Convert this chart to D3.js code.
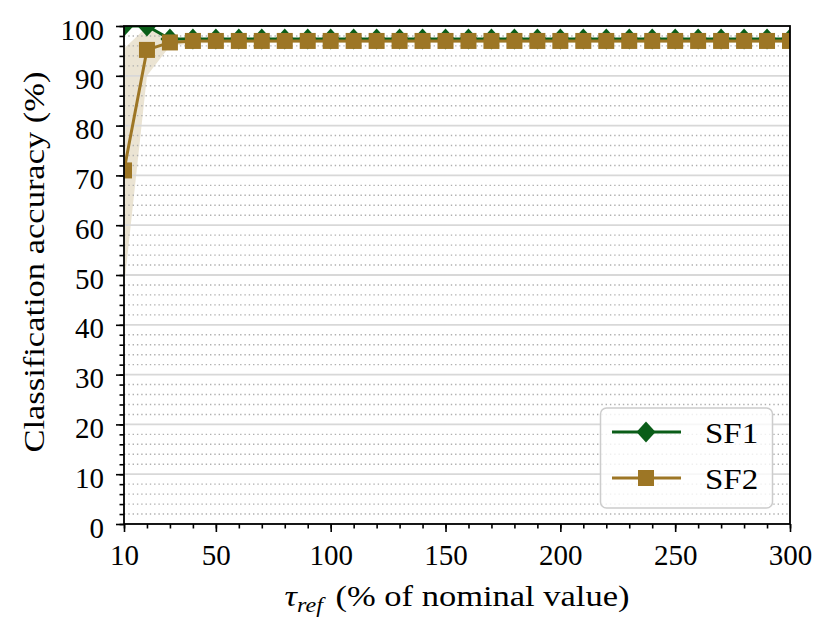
<!DOCTYPE html>
<html>
<head>
<meta charset="utf-8">
<script src="https://cdn.jsdelivr.net/npm/d3@7"></script>
<style>
  body { margin: 0; background: #fff; }
  text { font-family: "Liberation Serif", "DejaVu Serif", serif; fill: #000; }
</style>
</head>
<body>
<svg id="board" width="830" height="630"></svg>
<script>
// data
var tauRef = [10, 20, 30, 40, 50, 60, 70, 80, 90, 100, 110, 120, 130, 140, 150,
              160, 170, 180, 190, 200, 210, 220, 230, 240, 250, 260, 270, 280, 290, 300];
var sf1 = [100, 100, 97.4, 97.4, 97.4, 97.4, 97.4, 97.4, 97.4, 97.4, 97.4, 97.4, 97.4, 97.4, 97.4,
           97.4, 97.4, 97.4, 97.4, 97.4, 97.4, 97.4, 97.4, 97.4, 97.4, 97.4, 97.4, 97.4, 97.4, 97.4];
var sf2 = [71, 95.2, 96.7, 97.0, 97.0, 97.0, 97.0, 97.0, 97.0, 97.0, 97.0, 97.0, 97.0, 97.0, 97.0,
           97.0, 97.0, 97.0, 97.0, 97.0, 97.0, 97.0, 97.0, 97.0, 97.0, 97.0, 97.0, 97.0, 97.0, 97.0];
var sf2Lo = [47.5, 90, 96.0, 96.5, 96.6, 96.6, 96.6, 96.6, 96.6, 96.6, 96.6, 96.6, 96.6, 96.6, 96.6,
             96.6, 96.6, 96.6, 96.6, 96.6, 96.6, 96.6, 96.6, 96.6, 96.6, 96.6, 96.6, 96.6, 96.6, 96.6];
var sf2Hi = [95.5, 99.8, 97.6, 97.4, 97.4, 97.4, 97.4, 97.4, 97.4, 97.4, 97.4, 97.4, 97.4, 97.4, 97.4,
             97.4, 97.4, 97.4, 97.4, 97.4, 97.4, 97.4, 97.4, 97.4, 97.4, 97.4, 97.4, 97.4, 97.4, 97.4];
var xTicks = [10, 50, 100, 150, 200, 250, 300];
var yTicks = [0, 10, 20, 30, 40, 50, 60, 70, 80, 90, 100];
var seriesNames = ["SF1", "SF2"];
var seriesColors = ["#0a5d18", "#9d7625"];

var L = 124, R = 790, T = 26, B = 524;
var board = d3.select("#board");
var x = d3.scaleLinear().domain([10, 300]).range([L, R]);
var y = d3.scaleLinear().domain([0, 100]).range([B, T]);

board.append("defs").append("clipPath").attr("id", "clip")
  .append("rect").attr("x", L).attr("y", T).attr("width", R - L).attr("height", B - T);

var plot = board.append("g").attr("clip-path", "url(#clip)");

// shaded spread of SF2
plot.append("path")
  .datum(tauRef.map(function(t, i) { return [t, sf2Lo[i], sf2Hi[i]]; }))
  .attr("fill", seriesColors[1]).attr("fill-opacity", 0.2)
  .attr("d", d3.area().x(function(d) { return x(d[0]); })
    .y0(function(d) { return y(d[1]); }).y1(function(d) { return y(d[2]); }));

// grid
var minorY = d3.range(0, 101, 2).filter(function(v) { return v % 10 !== 0; });
plot.selectAll("line.minor").data(minorY).enter().append("line")
  .attr("class", "minor")
  .attr("x1", L).attr("x2", R)
  .attr("y1", function(d) { return y(d); }).attr("y2", function(d) { return y(d); })
  .attr("stroke", "#b0b0b0").attr("stroke-width", 1.4).attr("stroke-dasharray", "1.4,2.9");
plot.selectAll("line.major").data(yTicks).enter().append("line")
  .attr("class", "major")
  .attr("x1", L).attr("x2", R)
  .attr("y1", function(d) { return y(d); }).attr("y2", function(d) { return y(d); })
  .attr("stroke", "#d8d8d8").attr("stroke-width", 1.8);

var line = d3.line().x(function(d) { return x(d[0]); }).y(function(d) { return y(d[1]); });
var diamond = "M0,-10.5L9.5,0L0,10.5L-9.5,0Z";

function drawSeries(vals, color, kind) {
  var pts = tauRef.map(function(t, i) { return [t, vals[i]]; });
  plot.append("path").datum(pts).attr("d", line)
    .attr("fill", "none").attr("stroke", color).attr("stroke-width", 3);
  var m = plot.selectAll(null).data(pts).enter();
  if (kind === "d") {
    m.append("path").attr("d", diamond)
      .attr("transform", function(d) { return "translate(" + x(d[0]) + "," + y(d[1]) + ")"; })
      .attr("fill", color);
  } else {
    m.append("rect").attr("width", 16).attr("height", 16)
      .attr("x", function(d) { return x(d[0]) - 8; })
      .attr("y", function(d) { return y(d[1]) - 8; })
      .attr("fill", color);
  }
}
drawSeries(sf1, seriesColors[0], "d");
drawSeries(sf2, seriesColors[1], "s");

// axes
var fs = 29;
var ax = board.append("g").attr("transform", "translate(0," + B + ")")
  .call(d3.axisBottom(x).tickValues(xTicks).tickSize(8).tickPadding(12));
board.append("g").attr("transform", "translate(0," + B + ")")
  .call(d3.axisBottom(x).tickValues(d3.range(10, 301, 10)).tickSize(4.5).tickFormat(""))
  .select(".domain").remove();
var ay = board.append("g").attr("transform", "translate(" + L + ",0)")
  .call(d3.axisLeft(y).tickValues(yTicks).tickSize(8).tickPadding(12));
board.append("g").attr("transform", "translate(" + L + ",0)")
  .call(d3.axisLeft(y).tickValues(d3.range(0, 101, 2)).tickSize(4.5).tickFormat(""))
  .select(".domain").remove();
board.selectAll(".tick line").attr("stroke", "#000").attr("stroke-width", 1.6);
board.selectAll(".domain").remove();
ax.selectAll("text").style("font-size", fs + "px").style("font-family", "Liberation Serif");
ay.selectAll("text").style("font-size", fs + "px").style("font-family", "Liberation Serif").attr("dy", "0.45em");

board.append("rect").attr("x", L).attr("y", T).attr("width", R - L).attr("height", B - T)
  .attr("fill", "none").attr("stroke", "#000").attr("stroke-width", 1.8);

// axis titles (stretched a bit to get the wide look of the original face)
var xl = board.append("text")
  .attr("transform", "translate(" + ((L + R) / 2) + ",606) scale(1.15,1)")
  .attr("text-anchor", "middle").style("font-size", "30px");
xl.append("tspan").attr("font-style", "italic").text("τ");
xl.append("tspan").attr("font-style", "italic").attr("dy", 6).style("font-size", "21px").text("ref");
xl.append("tspan").attr("dy", -6).attr("dx", 11).text("(% of nominal value)");

board.append("text")
  .attr("transform", "translate(44," + ((T + B) / 2 - 13) + ") rotate(-90) scale(1.15,1)")
  .attr("text-anchor", "middle").style("font-size", "30px")
  .text("Classification accuracy (%)");

// legend
var lg = board.append("g");
lg.append("rect").attr("x", 600.5).attr("y", 408).attr("width", 172).attr("height", 100)
  .attr("rx", 6).attr("fill", "#fff").attr("fill-opacity", 0.8)
  .attr("stroke", "#cccccc").attr("stroke-width", 1.5);
seriesNames.forEach(function(name, i) {
  var yy = 432 + i * 46;
  lg.append("line").attr("x1", 612).attr("x2", 681).attr("y1", yy).attr("y2", yy)
    .attr("stroke", seriesColors[i]).attr("stroke-width", 3);
  if (i === 0) {
    lg.append("path").attr("d", diamond).attr("transform", "translate(646," + yy + ")")
      .attr("fill", seriesColors[i]);
  } else {
    lg.append("rect").attr("x", 638).attr("y", yy - 8).attr("width", 16).attr("height", 16)
      .attr("fill", seriesColors[i]);
  }
  lg.append("text").attr("transform", "translate(705," + (yy + 11) + ") scale(1.1,1)")
    .style("font-size", "30px").text(name);
});
</script>
</body>
</html>
